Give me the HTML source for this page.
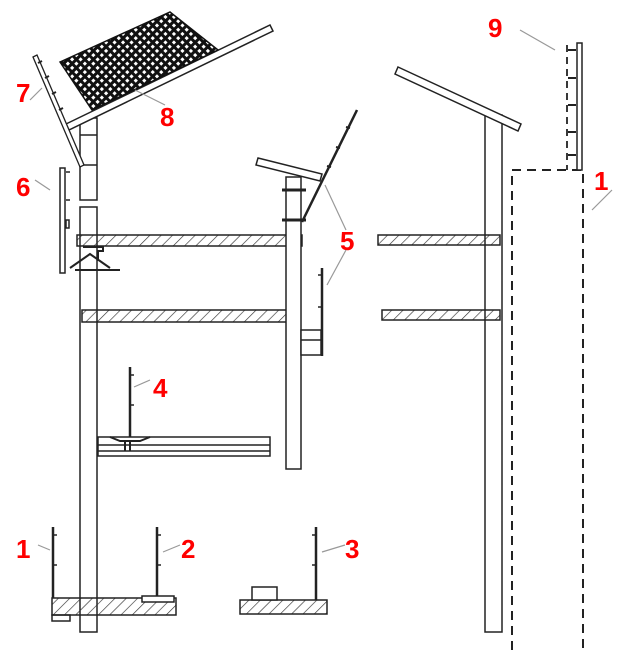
<!DOCTYPE html>
<html><head><meta charset="utf-8"><style>
html,body{margin:0;padding:0;background:#fff;width:624px;height:666px;overflow:hidden}
text{font-family:"Liberation Sans",sans-serif;font-weight:bold;fill:#f00;font-size:26px}
</style></head><body>
<svg width="624" height="666" viewBox="0 0 624 666" xmlns="http://www.w3.org/2000/svg">
<defs>
<pattern id="h" width="8" height="8" patternUnits="userSpaceOnUse" patternTransform="rotate(45)">
<line x1="0" y1="0" x2="0" y2="8" stroke="#333" stroke-width="1.3"/></pattern>
<pattern id="m" width="6" height="6" patternUnits="userSpaceOnUse" patternTransform="rotate(45)">
<rect width="6" height="6" fill="#111"/><rect x="1.5" y="1.5" width="3" height="3" fill="#fff"/></pattern>
</defs>
<g fill="none" stroke="#222" stroke-width="1.5">
<!-- left main column -->
<rect x="80" y="118" width="17" height="82" fill="#fff"/>
<rect x="80" y="207" width="17" height="425" fill="#fff"/>
<line x1="80" y1="135" x2="97" y2="135"/><line x1="80" y1="165" x2="97" y2="165"/>
<!-- roof -->
<polygon points="66,124 270,25 273,31 69,130" fill="#fff"/>
<polygon points="60,62 170,12 218,50 92,110" fill="url(#m)" stroke="#111"/>
<!-- part 7 -->
<polygon points="33,57 37,55 84,165 80,167" fill="#fff" stroke-width="1.3"/>
<g stroke-width="2"><line x1="38" y1="63" x2="42" y2="61"/><line x1="45" y1="78" x2="49" y2="76"/><line x1="52" y1="94" x2="56" y2="92"/><line x1="59" y1="110" x2="63" y2="108"/></g>
<!-- part 6 -->
<rect x="60" y="168" width="5" height="105" fill="#fff"/>
<line x1="66" y1="172" x2="70" y2="172"/><line x1="66" y1="200" x2="70" y2="200"/><rect x="66" y="220" width="3" height="8"/>
<!-- slabs -->
<rect x="77" y="235" width="225" height="11" fill="url(#h)"/>
<rect x="82" y="310" width="205" height="12" fill="url(#h)"/>
<!-- bracket -->
<path d="M83,247 h20 v4 h-5 v10 M70,268 l20,-14 l20,14 M75,270 h45" stroke-width="2"/>
<!-- right column left drawing -->
<rect x="286" y="177" width="15" height="292" fill="#fff"/>
<line x1="282" y1="190" x2="306" y2="190" stroke-width="3"/><line x1="282" y1="220" x2="306" y2="220" stroke-width="3"/>
<polygon points="258,158 322,174 320,181 256,165" fill="#fff"/>
<line x1="302" y1="222" x2="357" y2="110" stroke-width="2.5"/>
<g stroke-width="2"><line x1="346" y1="127" x2="350" y2="128"/><line x1="336" y1="147" x2="340" y2="148"/><line x1="327" y1="166" x2="331" y2="167"/></g>
<!-- part 5 lower -->
<line x1="322" y1="268" x2="322" y2="356" stroke-width="2.5"/>
<line x1="318" y1="275" x2="322" y2="275"/><line x1="318" y1="307" x2="322" y2="307"/>
<rect x="301" y="330" width="20" height="25" fill="#fff"/><line x1="301" y1="340" x2="321" y2="340"/>
<!-- part 4 -->
<line x1="130" y1="367" x2="130" y2="438" stroke-width="2.5"/>
<line x1="130" y1="375" x2="134" y2="375"/><line x1="130" y1="405" x2="134" y2="405"/>
<rect x="98" y="437" width="172" height="19" fill="#fff"/>
<line x1="98" y1="445" x2="270" y2="445"/><line x1="98" y1="451" x2="270" y2="451"/>
<path d="M110,437 l10,4 h20 l10,-4 M125,441 v10 M130,441 v10" stroke-width="2"/>
<!-- bottom left slab -->
<rect x="52" y="598" width="124" height="17" fill="url(#h)"/>
<rect x="52" y="615" width="18" height="6"/>
<line x1="53" y1="527" x2="53" y2="598" stroke-width="2.5"/><line x1="53" y1="535" x2="57" y2="535"/><line x1="53" y1="565" x2="57" y2="565"/>
<line x1="157" y1="527" x2="157" y2="598" stroke-width="2.5"/><line x1="157" y1="535" x2="161" y2="535"/><line x1="157" y1="565" x2="161" y2="565"/>
<rect x="142" y="596" width="32" height="6" fill="#fff"/>
<!-- bottom slab 3 -->
<rect x="240" y="600" width="87" height="14" fill="url(#h)"/>
<rect x="252" y="587" width="25" height="13" fill="#fff"/>
<line x1="316" y1="527" x2="316" y2="600" stroke-width="2.5"/><line x1="312" y1="535" x2="316" y2="535"/><line x1="312" y1="565" x2="316" y2="565"/>
<!-- right drawing -->
<rect x="485" y="115" width="17" height="517" fill="#fff"/>
<polygon points="398,67 521,124 518,131 395,74" fill="#fff"/>
<rect x="378" y="235" width="122" height="10" fill="url(#h)"/>
<rect x="382" y="310" width="118" height="10" fill="url(#h)"/>
<path d="M512,650 V170 H583 V650" stroke-dasharray="9,6" stroke-width="2"/>
<rect x="577" y="43" width="5" height="127" fill="#fff"/>
<line x1="567" y1="45" x2="567" y2="170" stroke-dasharray="7,5" stroke-width="1.8"/>
<g stroke-width="2"><path d="M568,50 h8"/><path d="M568,78 h8"/><path d="M568,105 h8"/><path d="M568,132 h8"/><path d="M568,155 h8"/></g>
</g>
<!-- leaders -->
<g stroke="#999" stroke-width="1.2">
<line x1="30" y1="100" x2="42" y2="88"/><line x1="135" y1="90" x2="165" y2="105"/>
<line x1="35" y1="180" x2="50" y2="190"/><line x1="346" y1="230" x2="325" y2="185"/><line x1="346" y1="250" x2="327" y2="285"/>
<line x1="150" y1="380" x2="134" y2="387"/><line x1="38" y1="545" x2="50" y2="550"/>
<line x1="180" y1="545" x2="163" y2="552"/><line x1="345" y1="545" x2="322" y2="552"/>
<line x1="520" y1="30" x2="555" y2="50"/><line x1="612" y1="190" x2="592" y2="210"/>
</g>
<text x="16" y="102">7</text><text x="160" y="126">8</text><text x="16" y="196">6</text>
<text x="340" y="250">5</text><text x="153" y="397">4</text><text x="16" y="558">1</text>
<text x="181" y="558">2</text><text x="345" y="558">3</text><text x="488" y="37">9</text><text x="594" y="190">1</text>
</svg>
</body></html>
